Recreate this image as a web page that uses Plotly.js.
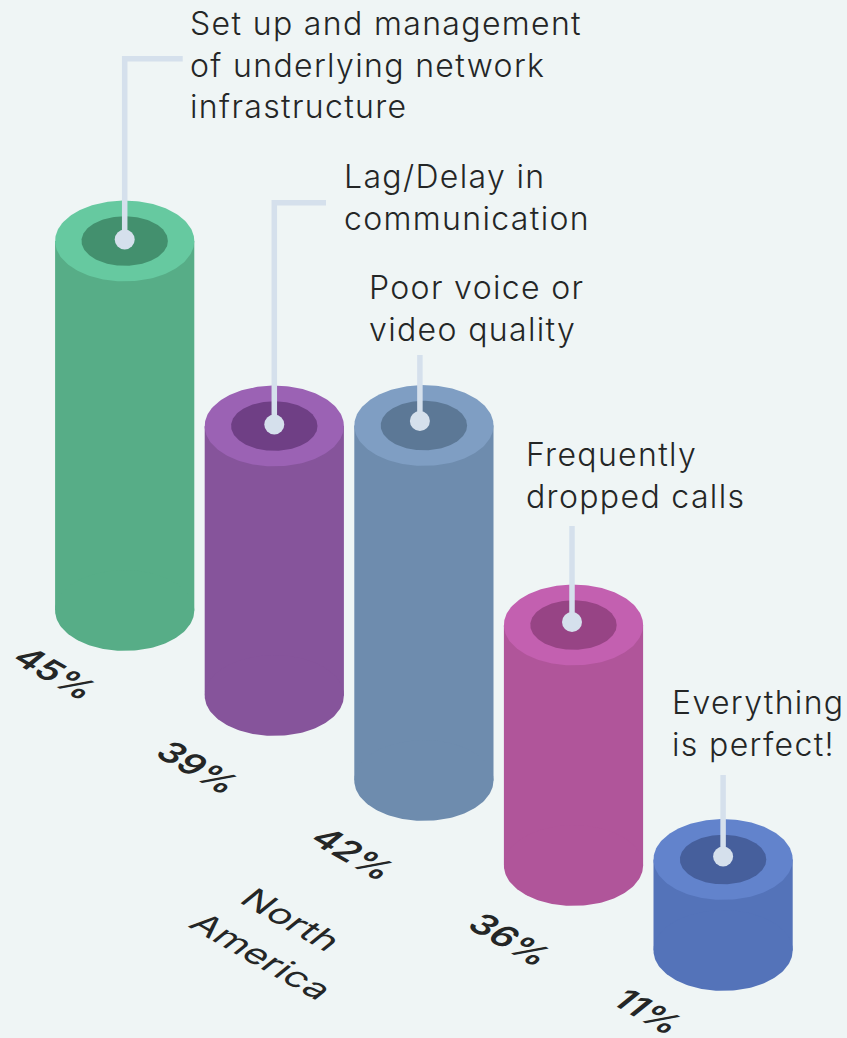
<!DOCTYPE html>
<html>
<head>
<meta charset="utf-8">
<script src="https://cdn.plot.ly/plotly-3.0.1.min.js"></script>
<style>html,body{margin:0;padding:0;background:#eff5f5;overflow:hidden}#chart{width:847px;height:1038px}</style>
</head>
<body>
<div id="chart"></div>
<script>
// ---- data ----
const categories = [
  "Set up and management<br>of underlying network<br>infrastructure",
  "Lag/Delay in<br>communication",
  "Poor voice or<br>video quality",
  "Frequently<br>dropped calls",
  "Everything<br>is perfect!"
];
const percentValues = [45, 39, 42, 36, 11];
const columnHeights = [369.5, 269.5, 355, 240.5, 91];
const regionLines = ["North", "America"];

// ---- styles ----
const sideColors = ["#57ad87", "#86549b", "#6e8cae", "#b0559a", "#5473b9"];
const rimColors  = ["#66c9a0", "#9b62b4", "#7f9ec3", "#c360b0", "#6283cc"];
const wellColors = ["#43906e", "#6f3f85", "#5c7896", "#974485", "#465f9c"];
const BG = "#eff5f5", INK = "#242626", LEADER = "#d5e0ec";
const FONT = "Inter, 'Noto Sans', sans-serif";

// ---- layout of the isometric floor ----
const X0 = 124.7, DX = 149.6, BASE0 = 610.5, DBASE = 85;
const RX = 69.6, RY = 40.4, WELL_RX = 43.2, WELL_RY = 24.8;
const idx = percentValues.map((_, i) => i);
const cx = idx.map(i => X0 + DX * i);
const baseY = idx.map(i => BASE0 + DBASE * i);
const topY = idx.map(i => baseY[i] - columnHeights[i]);

function ellipse(xc, yc, rx, ry, color, name) {
  const xs = [], ys = [];
  for (let k = 0; k <= 180; k++) {
    const t = k / 180 * 2 * Math.PI;
    xs.push(xc + rx * Math.cos(t));
    ys.push(yc + ry * Math.sin(t));
  }
  return {type: "scatter", mode: "lines", x: xs, y: ys, fill: "toself", fillcolor: color,
          line: {width: 0, color: color}, hoverinfo: "skip", showlegend: false, name};
}

const traces = [];
traces.push({type: "bar", x: cx, y: columnHeights, base: topY, width: RX * 2,
  marker: {color: sideColors, line: {width: 0}}, hoverinfo: "skip", showlegend: false});
idx.forEach(i => {
  traces.push(ellipse(cx[i], baseY[i], RX, RY, sideColors[i], "base"));
  traces.push(ellipse(cx[i], topY[i], RX, RY, rimColors[i], "rim"));
  traces.push(ellipse(cx[i], topY[i], WELL_RX, WELL_RY, wellColors[i], "well"));
});

// leaders from each column to its label
const dotOffsetX = [0, 0, -4, -1.5, 0];
const dotOffsetY = [-1.5, -1.5, -4.5, -3, -3];
const leaderTopY = [58.8, 202.8, 355, 526, 775];
const leaderEndX = [182.7, 326, null, null, null];
idx.forEach(i => {
  const dx = cx[i] + dotOffsetX[i], dy = topY[i] + dotOffsetY[i];
  const xs = leaderEndX[i] ? [leaderEndX[i], dx, dx] : [dx, dx];
  const ys = leaderEndX[i] ? [leaderTopY[i], leaderTopY[i], dy] : [leaderTopY[i], dy];
  traces.push({type: "scatter", mode: "lines", x: xs, y: ys,
    line: {color: LEADER, width: 5.5}, hoverinfo: "skip", showlegend: false});
  traces.push({type: "scatter", mode: "markers", x: [dx], y: [dy],
    marker: {color: LEADER, size: 20, line: {width: 0}}, hoverinfo: "skip", showlegend: false});
});

// labels
const labelX = [188, 342, 367, 524, 670];
const labelY = [2, 155, 266, 433, 681];
const pctX = [56, 198, 353, 510, 648];
const pctY = [673, 767, 853, 939, 1011];
const regionX = [291, 262], regionY = [919, 956];
const annotations = [];
idx.forEach(i => {
  annotations.push({x: labelX[i], y: labelY[i], xref: "x", yref: "y", xanchor: "left", yanchor: "top",
    align: "left", showarrow: false, text: categories[i],
    font: {family: FONT, size: 32, weight: 300, color: INK}});
});
idx.forEach(i => {
  annotations.push({x: pctX[i], y: pctY[i], xref: "x", yref: "y", xanchor: "center", yanchor: "middle",
    showarrow: false, text: percentValues[i] + "%",
    font: {family: FONT, size: 32, weight: 600, color: INK}});
});
regionLines.forEach((line, k) => {
  annotations.push({x: regionX[k], y: regionY[k], xref: "x", yref: "y", xanchor: "center", yanchor: "middle",
    showarrow: false, text: line, font: {family: FONT, size: 32, weight: 400, color: INK}});
});

const layout = {
  width: 847, height: 1038, margin: {l: 0, r: 0, t: 0, b: 0},
  paper_bgcolor: BG, plot_bgcolor: BG, showlegend: false,
  xaxis: {range: [0, 847], visible: false, fixedrange: true},
  yaxis: {range: [1038, 0], visible: false, fixedrange: true},
  annotations
};

// the tilted labels lie in the isometric floor plane
const floorMatrix = (stretch, squash) =>
  [0.866 * stretch, 0.5 * stretch, -0.777 * squash, 0.629 * squash].join(",");
function tilt(node, x, y, m) {
  node.setAttribute("transform", `translate(${x},${y}) matrix(${m},0,0) translate(${-x},${-y})`);
}
Plotly.newPlot("chart", traces, layout, {displayModeBar: false, staticPlot: true}).then(gd => {
  const nodes = gd.querySelectorAll(".annotation");
  const n = idx.length;
  idx.forEach(i => {
    nodes[i].querySelectorAll("text").forEach(t => { t.style.letterSpacing = "1.35px"; });
    tilt(nodes[n + i], pctX[i], pctY[i], floorMatrix(1.12, 1.06));
  });
  regionLines.forEach((_, k) => tilt(nodes[2 * n + k], regionX[k], regionY[k], floorMatrix(1.2, 1.02)));
});
</script>
</body>
</html>
